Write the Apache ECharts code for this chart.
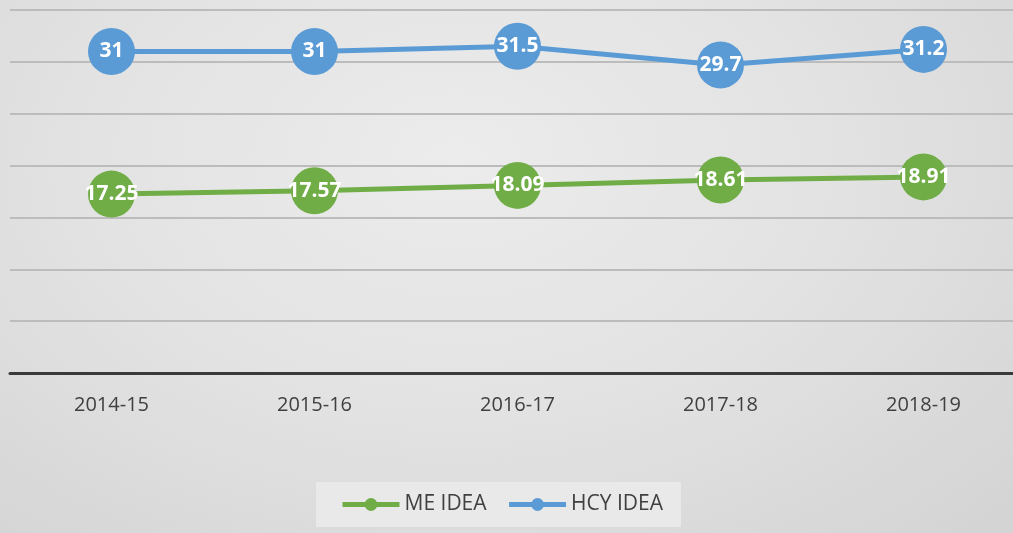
<!DOCTYPE html>
<html><head><meta charset="utf-8">
<script src="https://cdn.jsdelivr.net/npm/echarts@6/dist/echarts.min.js"></script>
<style>html,body{margin:0;padding:0;}#c{width:1013px;height:533px;background:radial-gradient(ellipse at 45% 30%, #ececec 0%, #e2e2e2 50%, #d3d3d3 100%);}</style>
</head><body><div id="c"></div>
<script>
const categories = ['2014-15','2015-16','2016-17','2017-18','2018-19'];
const meIdea = [17.25, 17.57, 18.09, 18.61, 18.91];
const hcyIdea = [31, 31, 31.5, 29.7, 31.2];
const seriesNames = ['ME IDEA','HCY IDEA'];
const font = '"Open Sans", "Liberation Sans", sans-serif';
const chart = echarts.init(document.getElementById('c'));
function mk(name, data, color){
  return {name, type:'line', data, symbol:'circle', symbolSize:47,
    lineStyle:{color, width:5}, itemStyle:{color},
    label:{show:true, position:'inside', color:'#fff', fontWeight:'bold', fontSize:21, fontFamily:font},
    emphasis:{disabled:true}, animation:false};
}
chart.setOption({
  backgroundColor:'transparent',
  animation:false,
  grid:{left:10, top:10, right:-12, height:363, containLabel:false, outerBoundsMode:'none'},
  xAxis:{type:'category', data:categories, boundaryGap:true,
    axisLine:{lineStyle:{color:'#3a3a3a', width:3}}, axisTick:{show:false},
    axisLabel:{color:'#404040', fontSize:20, fontFamily:font, margin:22}},
  yAxis:{type:'value', min:0, max:35, interval:5,
    axisLabel:{show:false}, axisLine:{show:false}, axisTick:{show:false},
    splitLine:{lineStyle:{color:'#bcbcbc', width:2}}},
  legend:{data:seriesNames, bottom:6, left:316, itemWidth:57, itemHeight:16, itemGap:20,
    padding:[12,18,12,24], backgroundColor:'rgba(235,235,235,0.85)', borderRadius:0,
    lineStyle:{width:5}, itemStyle:{},
    textStyle:{color:'#404040', fontSize:21, fontFamily:font}},
  series:[mk(seriesNames[0], meIdea, '#70ad47'), mk(seriesNames[1], hcyIdea, '#5b9bd5')]
});
</script></body></html>
